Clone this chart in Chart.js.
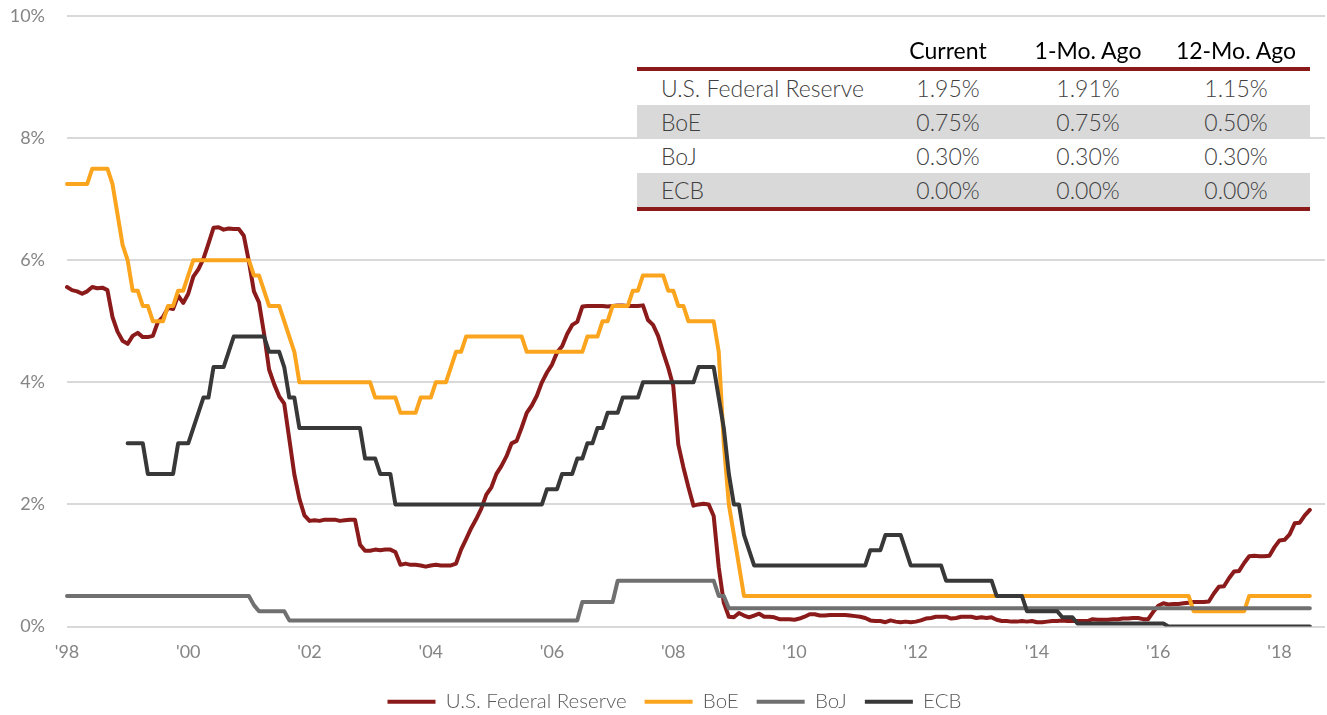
<html>
  <head>
    <script src="https://cdn.jsdelivr.net/npm/chart.js@4.4.1/dist/chart.umd.min.js"></script>
    <style>
      body { margin: 0; background: #fff; }
      #wrap { position: relative; width: 1327px; height: 715px; font-family: Lato, 'Open Sans', sans-serif; }
      #rates { position: absolute; left: 0; top: 0; }
      .cell { position: absolute; height: 34px; line-height: 34px; font-size: 23px; white-space: nowrap; }
    </style>
    <script>
      // monthly, Jan 1998 onward
      var startYear = 1998
      var monthCount = 250
      var fedRate = [
        5.56, 5.51, 5.49, 5.45, 5.49, 5.56, 5.54, 5.55, 5.51, 5.07, 4.83, 4.68,
        4.63, 4.76, 4.81, 4.74, 4.74, 4.76, 4.99, 5.07, 5.22, 5.20, 5.42, 5.30,
        5.45, 5.73, 5.85, 6.02, 6.27, 6.53, 6.54, 6.50, 6.52, 6.51, 6.51, 6.40,
        5.98, 5.49, 5.31, 4.80, 4.21, 3.97, 3.77, 3.65, 3.07, 2.49, 2.09, 1.82,
        1.73, 1.74, 1.73, 1.75, 1.75, 1.75, 1.73, 1.74, 1.75, 1.75, 1.34, 1.24,
        1.24, 1.26, 1.25, 1.26, 1.26, 1.22, 1.01, 1.03, 1.01, 1.01, 1.00, 0.98,
        1.00, 1.01, 1.00, 1.00, 1.00, 1.03, 1.26, 1.43, 1.61, 1.76, 1.93, 2.16,
        2.28, 2.50, 2.63, 2.79, 3.00, 3.04, 3.26, 3.50, 3.62, 3.78, 4.00, 4.16,
        4.29, 4.49, 4.59, 4.79, 4.94, 4.99, 5.24, 5.25, 5.25, 5.25, 5.25, 5.24,
        5.25, 5.26, 5.26, 5.25, 5.25, 5.25, 5.26, 5.02, 4.94, 4.76, 4.49, 4.24,
        3.94, 2.98, 2.61, 2.28, 1.98, 2.00, 2.01, 2.00, 1.81, 0.97, 0.39, 0.16,
        0.15, 0.22, 0.18, 0.15, 0.18, 0.21, 0.16, 0.16, 0.15, 0.12, 0.12, 0.12,
        0.11, 0.13, 0.16, 0.20, 0.20, 0.18, 0.18, 0.19, 0.19, 0.19, 0.19, 0.18,
        0.17, 0.16, 0.14, 0.10, 0.09, 0.09, 0.07, 0.10, 0.08, 0.07, 0.08, 0.07,
        0.08, 0.10, 0.13, 0.14, 0.16, 0.16, 0.16, 0.13, 0.14, 0.16, 0.16, 0.16,
        0.14, 0.15, 0.14, 0.15, 0.11, 0.09, 0.09, 0.08, 0.08, 0.09, 0.08, 0.09,
        0.07, 0.07, 0.08, 0.09, 0.09, 0.10, 0.09, 0.09, 0.09, 0.09, 0.09, 0.12,
        0.11, 0.11, 0.11, 0.12, 0.12, 0.13, 0.13, 0.14, 0.14, 0.12, 0.12, 0.24,
        0.34, 0.38, 0.36, 0.37, 0.37, 0.38, 0.39, 0.40, 0.40, 0.40, 0.41, 0.54,
        0.65, 0.66, 0.79, 0.90, 0.91, 1.04, 1.15, 1.16, 1.15, 1.15, 1.16, 1.30,
        1.41, 1.42, 1.51, 1.69, 1.70, 1.82, 1.91
      ]
      var boeRate = [
        7.25, 7.25, 7.25, 7.25, 7.25, 7.5, 7.5, 7.5, 7.5, 7.25, 6.75, 6.25,
        6.0, 5.5, 5.5, 5.25, 5.25, 5.0, 5.0, 5.0, 5.25, 5.25, 5.5, 5.5,
        5.75, 6.0, 6.0, 6.0, 6.0, 6.0, 6.0, 6.0, 6.0, 6.0, 6.0, 6.0,
        6.0, 5.75, 5.75, 5.5, 5.25, 5.25, 5.25, 5.0, 4.75, 4.5, 4.0, 4.0,
        4.0, 4.0, 4.0, 4.0, 4.0, 4.0, 4.0, 4.0, 4.0, 4.0, 4.0, 4.0,
        4.0, 3.75, 3.75, 3.75, 3.75, 3.75, 3.5, 3.5, 3.5, 3.5, 3.75, 3.75,
        3.75, 4.0, 4.0, 4.0, 4.25, 4.5, 4.5, 4.75, 4.75, 4.75, 4.75, 4.75,
        4.75, 4.75, 4.75, 4.75, 4.75, 4.75, 4.75, 4.5, 4.5, 4.5, 4.5, 4.5,
        4.5, 4.5, 4.5, 4.5, 4.5, 4.5, 4.5, 4.75, 4.75, 4.75, 5.0, 5.0,
        5.25, 5.25, 5.25, 5.25, 5.5, 5.5, 5.75, 5.75, 5.75, 5.75, 5.75, 5.5,
        5.5, 5.25, 5.25, 5.0, 5.0, 5.0, 5.0, 5.0, 5.0, 4.5, 3.0, 2.0,
        1.5, 1.0, 0.5, 0.5, 0.5, 0.5, 0.5, 0.5, 0.5, 0.5, 0.5, 0.5,
        0.5, 0.5, 0.5, 0.5, 0.5, 0.5, 0.5, 0.5, 0.5, 0.5, 0.5, 0.5,
        0.5, 0.5, 0.5, 0.5, 0.5, 0.5, 0.5, 0.5, 0.5, 0.5, 0.5, 0.5,
        0.5, 0.5, 0.5, 0.5, 0.5, 0.5, 0.5, 0.5, 0.5, 0.5, 0.5, 0.5,
        0.5, 0.5, 0.5, 0.5, 0.5, 0.5, 0.5, 0.5, 0.5, 0.5, 0.5, 0.5,
        0.5, 0.5, 0.5, 0.5, 0.5, 0.5, 0.5, 0.5, 0.5, 0.5, 0.5, 0.5,
        0.5, 0.5, 0.5, 0.5, 0.5, 0.5, 0.5, 0.5, 0.5, 0.5, 0.5, 0.5,
        0.5, 0.5, 0.5, 0.5, 0.5, 0.5, 0.5, 0.25, 0.25, 0.25, 0.25, 0.25,
        0.25, 0.25, 0.25, 0.25, 0.25, 0.25, 0.5, 0.5, 0.5, 0.5, 0.5, 0.5,
        0.5, 0.5, 0.5, 0.5, 0.5, 0.5, 0.5
      ]
      var bojRate = [
        0.5, 0.5, 0.5, 0.5, 0.5, 0.5, 0.5, 0.5, 0.5, 0.5, 0.5, 0.5,
        0.5, 0.5, 0.5, 0.5, 0.5, 0.5, 0.5, 0.5, 0.5, 0.5, 0.5, 0.5,
        0.5, 0.5, 0.5, 0.5, 0.5, 0.5, 0.5, 0.5, 0.5, 0.5, 0.5, 0.5,
        0.5, 0.35, 0.25, 0.25, 0.25, 0.25, 0.25, 0.25, 0.1, 0.1, 0.1, 0.1,
        0.1, 0.1, 0.1, 0.1, 0.1, 0.1, 0.1, 0.1, 0.1, 0.1, 0.1, 0.1,
        0.1, 0.1, 0.1, 0.1, 0.1, 0.1, 0.1, 0.1, 0.1, 0.1, 0.1, 0.1,
        0.1, 0.1, 0.1, 0.1, 0.1, 0.1, 0.1, 0.1, 0.1, 0.1, 0.1, 0.1,
        0.1, 0.1, 0.1, 0.1, 0.1, 0.1, 0.1, 0.1, 0.1, 0.1, 0.1, 0.1,
        0.1, 0.1, 0.1, 0.1, 0.1, 0.1, 0.4, 0.4, 0.4, 0.4, 0.4, 0.4,
        0.4, 0.75, 0.75, 0.75, 0.75, 0.75, 0.75, 0.75, 0.75, 0.75, 0.75, 0.75,
        0.75, 0.75, 0.75, 0.75, 0.75, 0.75, 0.75, 0.75, 0.75, 0.5, 0.5, 0.3,
        0.3, 0.3, 0.3, 0.3, 0.3, 0.3, 0.3, 0.3, 0.3, 0.3, 0.3, 0.3,
        0.3, 0.3, 0.3, 0.3, 0.3, 0.3, 0.3, 0.3, 0.3, 0.3, 0.3, 0.3,
        0.3, 0.3, 0.3, 0.3, 0.3, 0.3, 0.3, 0.3, 0.3, 0.3, 0.3, 0.3,
        0.3, 0.3, 0.3, 0.3, 0.3, 0.3, 0.3, 0.3, 0.3, 0.3, 0.3, 0.3,
        0.3, 0.3, 0.3, 0.3, 0.3, 0.3, 0.3, 0.3, 0.3, 0.3, 0.3, 0.3,
        0.3, 0.3, 0.3, 0.3, 0.3, 0.3, 0.3, 0.3, 0.3, 0.3, 0.3, 0.3,
        0.3, 0.3, 0.3, 0.3, 0.3, 0.3, 0.3, 0.3, 0.3, 0.3, 0.3, 0.3,
        0.3, 0.3, 0.3, 0.3, 0.3, 0.3, 0.3, 0.3, 0.3, 0.3, 0.3, 0.3,
        0.3, 0.3, 0.3, 0.3, 0.3, 0.3, 0.3, 0.3, 0.3, 0.3, 0.3, 0.3,
        0.3, 0.3, 0.3, 0.3, 0.3, 0.3, 0.3
      ]
      var ecbRate = [
        null, null, null, null, null, null, null, null, null, null, null, null,
        3.0, 3.0, 3.0, 3.0, 2.5, 2.5, 2.5, 2.5, 2.5, 2.5, 3.0, 3.0,
        3.0, 3.25, 3.5, 3.75, 3.75, 4.25, 4.25, 4.25, 4.5, 4.75, 4.75, 4.75,
        4.75, 4.75, 4.75, 4.75, 4.5, 4.5, 4.5, 4.25, 3.75, 3.75, 3.25, 3.25,
        3.25, 3.25, 3.25, 3.25, 3.25, 3.25, 3.25, 3.25, 3.25, 3.25, 3.25, 2.75,
        2.75, 2.75, 2.5, 2.5, 2.5, 2.0, 2.0, 2.0, 2.0, 2.0, 2.0, 2.0,
        2.0, 2.0, 2.0, 2.0, 2.0, 2.0, 2.0, 2.0, 2.0, 2.0, 2.0, 2.0,
        2.0, 2.0, 2.0, 2.0, 2.0, 2.0, 2.0, 2.0, 2.0, 2.0, 2.0, 2.25,
        2.25, 2.25, 2.5, 2.5, 2.5, 2.75, 2.75, 3.0, 3.0, 3.25, 3.25, 3.5,
        3.5, 3.5, 3.75, 3.75, 3.75, 3.75, 4.0, 4.0, 4.0, 4.0, 4.0, 4.0,
        4.0, 4.0, 4.0, 4.0, 4.0, 4.25, 4.25, 4.25, 4.25, 3.75, 3.25, 2.5,
        2.0, 2.0, 1.5, 1.25, 1.0, 1.0, 1.0, 1.0, 1.0, 1.0, 1.0, 1.0,
        1.0, 1.0, 1.0, 1.0, 1.0, 1.0, 1.0, 1.0, 1.0, 1.0, 1.0, 1.0,
        1.0, 1.0, 1.0, 1.25, 1.25, 1.25, 1.5, 1.5, 1.5, 1.5, 1.25, 1.0,
        1.0, 1.0, 1.0, 1.0, 1.0, 1.0, 0.75, 0.75, 0.75, 0.75, 0.75, 0.75,
        0.75, 0.75, 0.75, 0.75, 0.5, 0.5, 0.5, 0.5, 0.5, 0.5, 0.25, 0.25,
        0.25, 0.25, 0.25, 0.25, 0.25, 0.15, 0.15, 0.15, 0.05, 0.05, 0.05, 0.05,
        0.05, 0.05, 0.05, 0.05, 0.05, 0.05, 0.05, 0.05, 0.05, 0.05, 0.05, 0.05,
        0.05, 0.05, 0.0, 0.0, 0.0, 0.0, 0.0, 0.0, 0.0, 0.0, 0.0, 0.0,
        0.0, 0.0, 0.0, 0.0, 0.0, 0.0, 0.0, 0.0, 0.0, 0.0, 0.0, 0.0,
        0.0, 0.0, 0.0, 0.0, 0.0, 0.0, 0.0
      ]
      var seriesNames = ['U.S. Federal Reserve', 'BoE', 'BoJ', 'ECB']
      var seriesColors = ['#8B1A1A', '#FBA41D', '#707070', '#383838']
      var yTicks = [0, 2, 4, 6, 8, 10]

      // summary table
      var tableHeader = ['Current', '1-Mo. Ago', '12-Mo. Ago']
      var rateCurrent = ['1.95%', '0.75%', '0.30%', '0.00%']
      var rateOneMonth = ['1.91%', '0.75%', '0.30%', '0.00%']
      var rateTwelveMonth = ['1.15%', '0.50%', '0.30%', '0.00%']

      function makeLabels() {
        var out = []
        for (var i = 0; i < monthCount; i++) {
          var y = startYear + Math.floor(i / 12)
          out.push(y + '-' + String((i % 12) + 1).padStart(2, '0'))
        }
        return out
      }

      function cell(parent, text, left, top, width, align, extra) {
        var d = document.createElement('div')
        d.className = 'cell'
        d.textContent = text
        d.style.left = left + 'px'
        d.style.top = top + 'px'
        d.style.width = width + 'px'
        d.style.textAlign = align
        if (extra) Object.assign(d.style, extra)
        parent.appendChild(d)
        return d
      }

      function buildTable() {
        var box = document.getElementById('rates')
        var left = 637, right = 1310
        var colCenters = [948, 1088, 1236]
        tableHeader.forEach(function (h, j) {
          cell(box, h, colCenters[j] - 75, 33, 150, 'center', { color: '#000', fontWeight: '400' })
        })
        cell(box, '', left, 67, right - left, 'left', { height: '4px', background: '#8B1A1A' })
        var cols = [rateCurrent, rateOneMonth, rateTwelveMonth]
        seriesNames.forEach(function (name, i) {
          var top = 71 + i * 34
          var bg = i % 2 === 1 ? '#D9D9D9' : '#FFFFFF'
          cell(box, '', left, top, right - left, 'left', { background: bg })
          cell(box, name, left + 24, top, 240, 'left', { color: '#404040', fontWeight: '300' })
          cols.forEach(function (c, j) {
            cell(box, c[i], colCenters[j] - 75, top, 150, 'center', { color: '#404040', fontWeight: '300' })
          })
        })
        cell(box, '', left, 71 + 4 * 34, right - left, 'left', { height: '4px', background: '#8B1A1A' })
      }

      // nudge the legend a little to the right, like the original
      var legendShift = {
        id: 'legendShift',
        afterLayout: function (chart) {
          chart.legend.left += 12
          chart.legend.right += 12
        },
      }

      function init() {
        var series = [fedRate, boeRate, bojRate, ecbRate]
        var datasets = series.map(function (d, i) {
          return {
            label: seriesNames[i],
            data: d,
            borderColor: seriesColors[i],
            backgroundColor: seriesColors[i],
            borderWidth: 4,
            pointRadius: 0,
            tension: 0,
            borderCapStyle: 'round',
            borderJoinStyle: 'round',
            order: 4 - i,
          }
        })
        new Chart(document.getElementById('line-chart'), {
          type: 'line',
          data: { labels: makeLabels(), datasets: datasets },
          plugins: [legendShift],
          options: {
            responsive: false,
            animation: false,
            devicePixelRatio: 1,
            layout: { padding: { top: 0, right: 2, left: 0, bottom: -7 } },
            plugins: {
              tooltip: { enabled: false },
              legend: {
                position: 'bottom',
                labels: {
                  usePointStyle: true,
                  pointStyleWidth: 48,
                  pointStyle: 'line',
                  padding: 18,
                  color: '#595959',
                  font: { family: 'Lato', size: 20.5, weight: '300' },
                  sort: function (a, b) { return a.datasetIndex - b.datasetIndex },
                },
              },
            },
            scales: {
              x: {
                grid: { display: false, drawTicks: false },
                border: { display: false },
                afterFit: function (s) { s.height = 47 },
                ticks: {
                  autoSkip: false,
                  maxRotation: 0,
                  padding: 15,
                  color: '#858585',
                  font: { family: 'Lato', size: 18, weight: '400' },
                  callback: function (v, i) {
                    return i % 24 === 0 ? "'" + String(startYear + i / 12).slice(2) : null
                  },
                },
              },
              y: {
                min: 0,
                max: 10,
                afterFit: function (s) {
                  s.width = 67
                  s.paddingTop = 16
                  s.paddingBottom = 0
                },
                afterBuildTicks: function (s) { s.ticks = yTicks.map(function (v) { return { value: v } }) },
                grid: { color: '#D9D9D9', lineWidth: 2, drawTicks: false },
                border: { display: false },
                ticks: {
                  padding: 22,
                  color: '#858585',
                  font: { family: 'Lato', size: 18, weight: '400' },
                  callback: function (v) { return v + '%' },
                },
              },
            },
          },
        })
        buildTable()
      }
    </script>
  </head>
  <body onload="init()">
    <div id="wrap">
      <canvas id="line-chart" width="1327" height="715"></canvas>
      <div id="rates"></div>
    </div>
  </body>
</html>
